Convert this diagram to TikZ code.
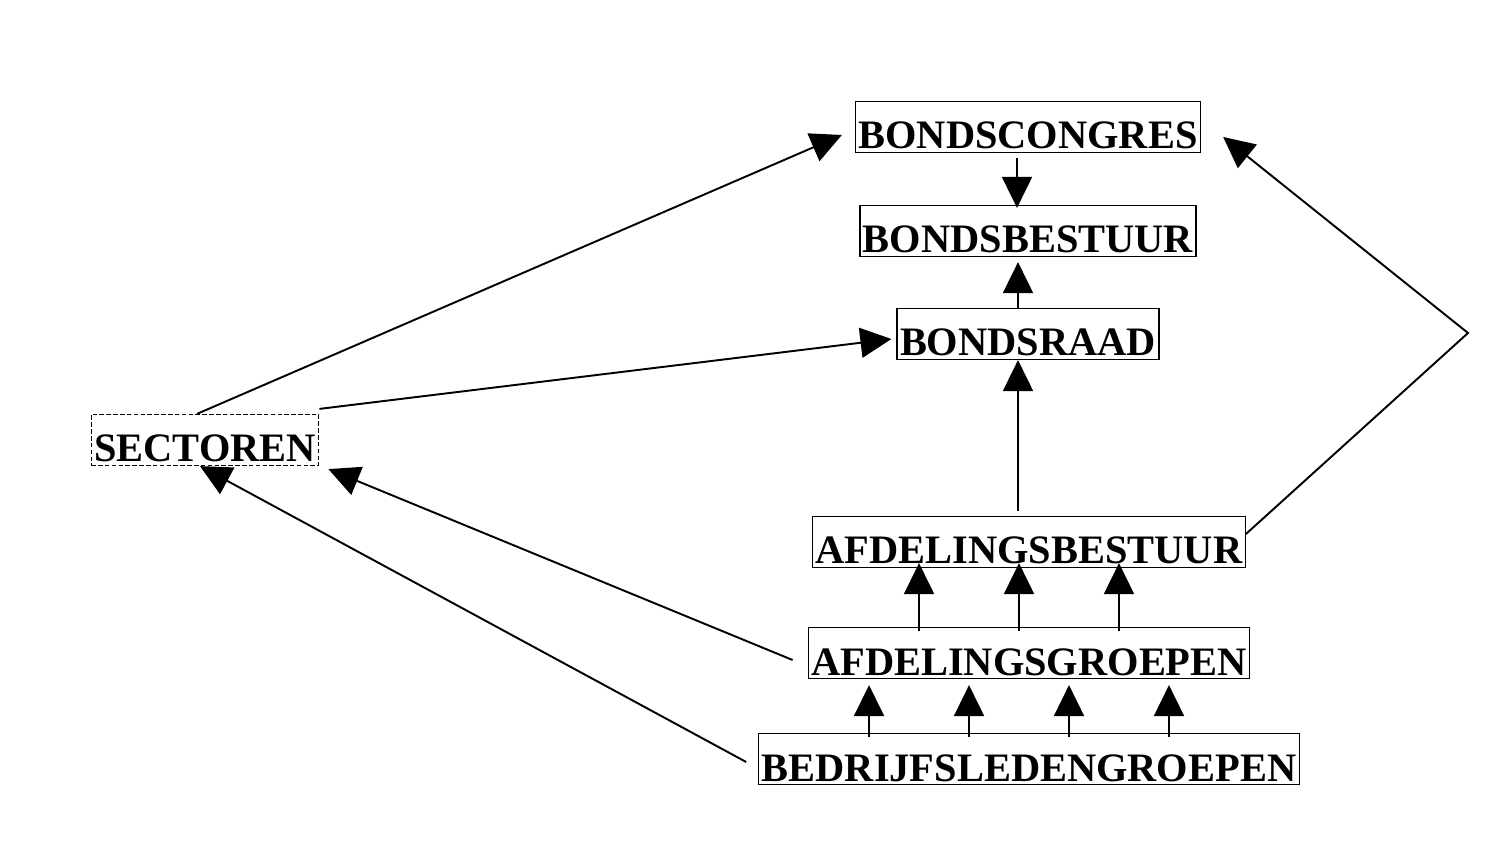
\documentclass[tikz,border=0pt]{standalone}
\usepackage{fontspec}
\setmainfont{Liberation Serif}
\usepackage{tikz}
\usetikzlibrary{arrows.meta,calc}

\begin{document}
\begin{tikzpicture}[
  x=0.02cm, y=-0.02cm,
  orgbox/.style={draw, line width=0.7pt, inner xsep=0.06cm, inner ysep=0.07cm,
    text height=0.88cm, text depth=0pt, font=\fontsize{23}{27}\selectfont\bfseries},
  arr/.style={-{Triangle[length=0.62cm, width=0.6cm]}, line width=1.1pt}
]
  \useasboundingbox (0,0) rectangle (1506,864);

  \node[orgbox] (cong) at (1028,127) {BONDSCONGRES};
  \node[orgbox] (best) at (1028,231) {BONDSBESTUUR};
  \node[orgbox] (raad) at (1028,334) {BONDSRAAD};
  \node[orgbox, dash pattern=on 2.6pt off 1.3pt] (sec) at (205,440) {SECTOREN};
  \node[orgbox] (afb) at (1029,542) {AFDELINGSBESTUUR};
  \node[orgbox] (grp) at (1029,653) {AFDELINGSGROEPEN};
  \node[orgbox] (bed) at (1029,759) {BEDRIJFSLEDENGROEPEN};
  \coordinate (bend) at (1468,333);

  \draw[arr] ([xshift=-0.22cm, yshift=-0.1cm]cong.south) -- ([xshift=-0.22cm, yshift=-0.06cm]best.north);
  \draw[arr] ([xshift=-0.2cm]raad.north) -- ([xshift=-0.2cm, yshift=-0.1cm]best.south);
  \draw[arr] ([xshift=-0.22cm, yshift=0.1cm]afb.north) -- ([xshift=-0.2cm]raad.south);

  \foreach \dx in {-2.2cm, -0.2cm, 1.8cm} {
    \draw[arr] ([xshift=\dx, yshift=-0.08cm]grp.north) -- ([xshift=\dx, yshift=0.1cm]afb.south);
  }
  \foreach \dx in {-3.2cm, -1.2cm, 0.8cm, 2.8cm} {
    \draw[arr] ([xshift=\dx, yshift=-0.08cm]bed.north) -- ([xshift=\dx, yshift=-0.12cm]grp.south);
  }

  \draw[arr] ([xshift=-0.16cm]sec.north) -- ([xshift=-0.26cm, yshift=-0.16cm]cong.west);
  \draw[arr] ([yshift=0.1cm]sec.north east) -- ([xshift=-0.1cm, yshift=-0.1cm]raad.west);
  \draw[arr] ([xshift=-0.3cm, yshift=-0.14cm]grp.west) -- ([xshift=0.18cm, yshift=-0.06cm]sec.south east);
  \draw[arr] ([xshift=-0.24cm, yshift=-0.06cm]bed.west) -- ([xshift=-0.1cm]sec.south);
  \draw[arr] ([yshift=0.16cm]afb.east) -- (bend) -- ([xshift=0.44cm, yshift=-0.2cm]cong.east);
\end{tikzpicture}
\end{document}
